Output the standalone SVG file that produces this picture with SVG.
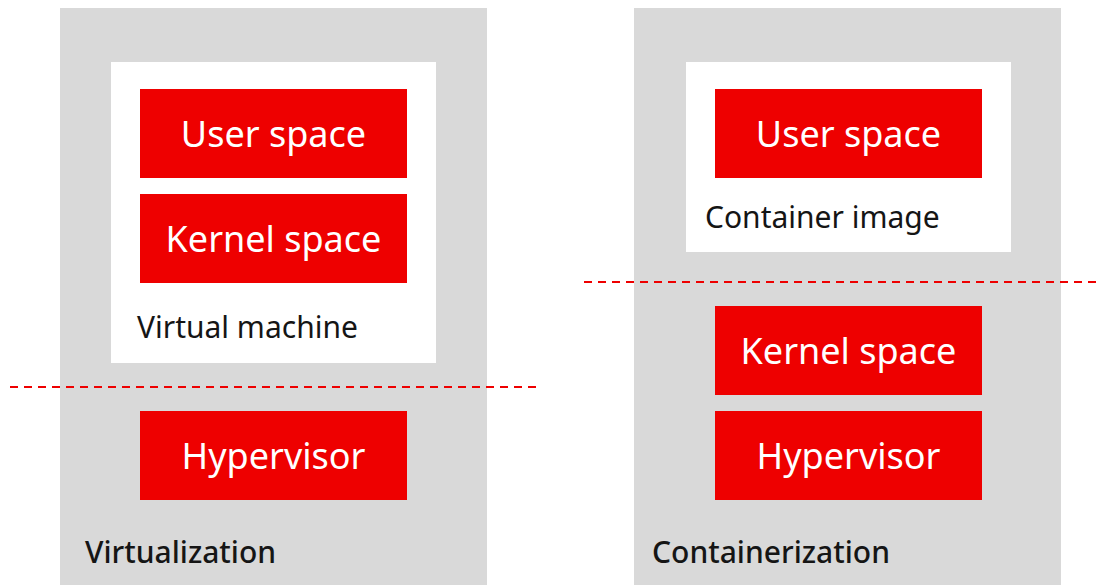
<svg xmlns="http://www.w3.org/2000/svg" width="1100" height="585" viewBox="0 0 1100 585">
<style>
.panel{fill:#d9d9d9}
.white{fill:#ffffff}
.red{fill:#ee0000}
.rt{font-family:"Noto Sans","Open Sans",sans-serif;font-size:36px;fill:#ffffff;text-anchor:middle}
.lt{font-family:"Noto Sans","Open Sans",sans-serif;font-size:30px;fill:#151515}
.tt{font-family:"Noto Sans","Open Sans",sans-serif;font-size:30px;font-weight:500;fill:#151515}
.dash{stroke:#ee0000;stroke-width:2;stroke-dasharray:8 6;fill:none}
</style>
<g id="virtualization">
<rect class="panel" x="60" y="8" width="427" height="577"/>
<text class="tt" x="85" y="563">Virtualization</text>
</g>
<g id="virtual-machine">
<rect class="white" x="111" y="62" width="325" height="301"/>
<text class="lt" x="137" y="338">Virtual machine</text>
</g>
<g id="vm-user-space">
<rect class="red" x="140" y="89" width="267" height="89"/>
<text class="rt" x="273.5" y="146.5">User space</text>
</g>
<g id="vm-kernel-space">
<rect class="red" x="140" y="194" width="267" height="89"/>
<text class="rt" x="273.5" y="251.5">Kernel space</text>
</g>
<g id="vm-hypervisor">
<rect class="red" x="140" y="411" width="267" height="89"/>
<text class="rt" x="273.5" y="468.5">Hypervisor</text>
</g>
<g id="containerization">
<rect class="panel" x="634" y="8" width="427" height="577"/>
<text class="tt" x="652" y="563">Containerization</text>
</g>
<g id="container-image">
<rect class="white" x="686" y="62" width="325" height="190"/>
<text class="lt" x="705" y="228">Container image</text>
</g>
<g id="c-user-space">
<rect class="red" x="715" y="89" width="267" height="89"/>
<text class="rt" x="848.5" y="146.5">User space</text>
</g>
<g id="c-kernel-space">
<rect class="red" x="715" y="306" width="267" height="89"/>
<text class="rt" x="848.5" y="363.5">Kernel space</text>
</g>
<g id="c-hypervisor">
<rect class="red" x="715" y="411" width="267" height="89"/>
<text class="rt" x="848.5" y="468.5">Hypervisor</text>
</g>
<g id="connectors">
<line class="dash" x1="10" y1="387" x2="537" y2="387"/>
<line class="dash" x1="584" y1="282" x2="1097" y2="282"/>
</g>
</svg>
